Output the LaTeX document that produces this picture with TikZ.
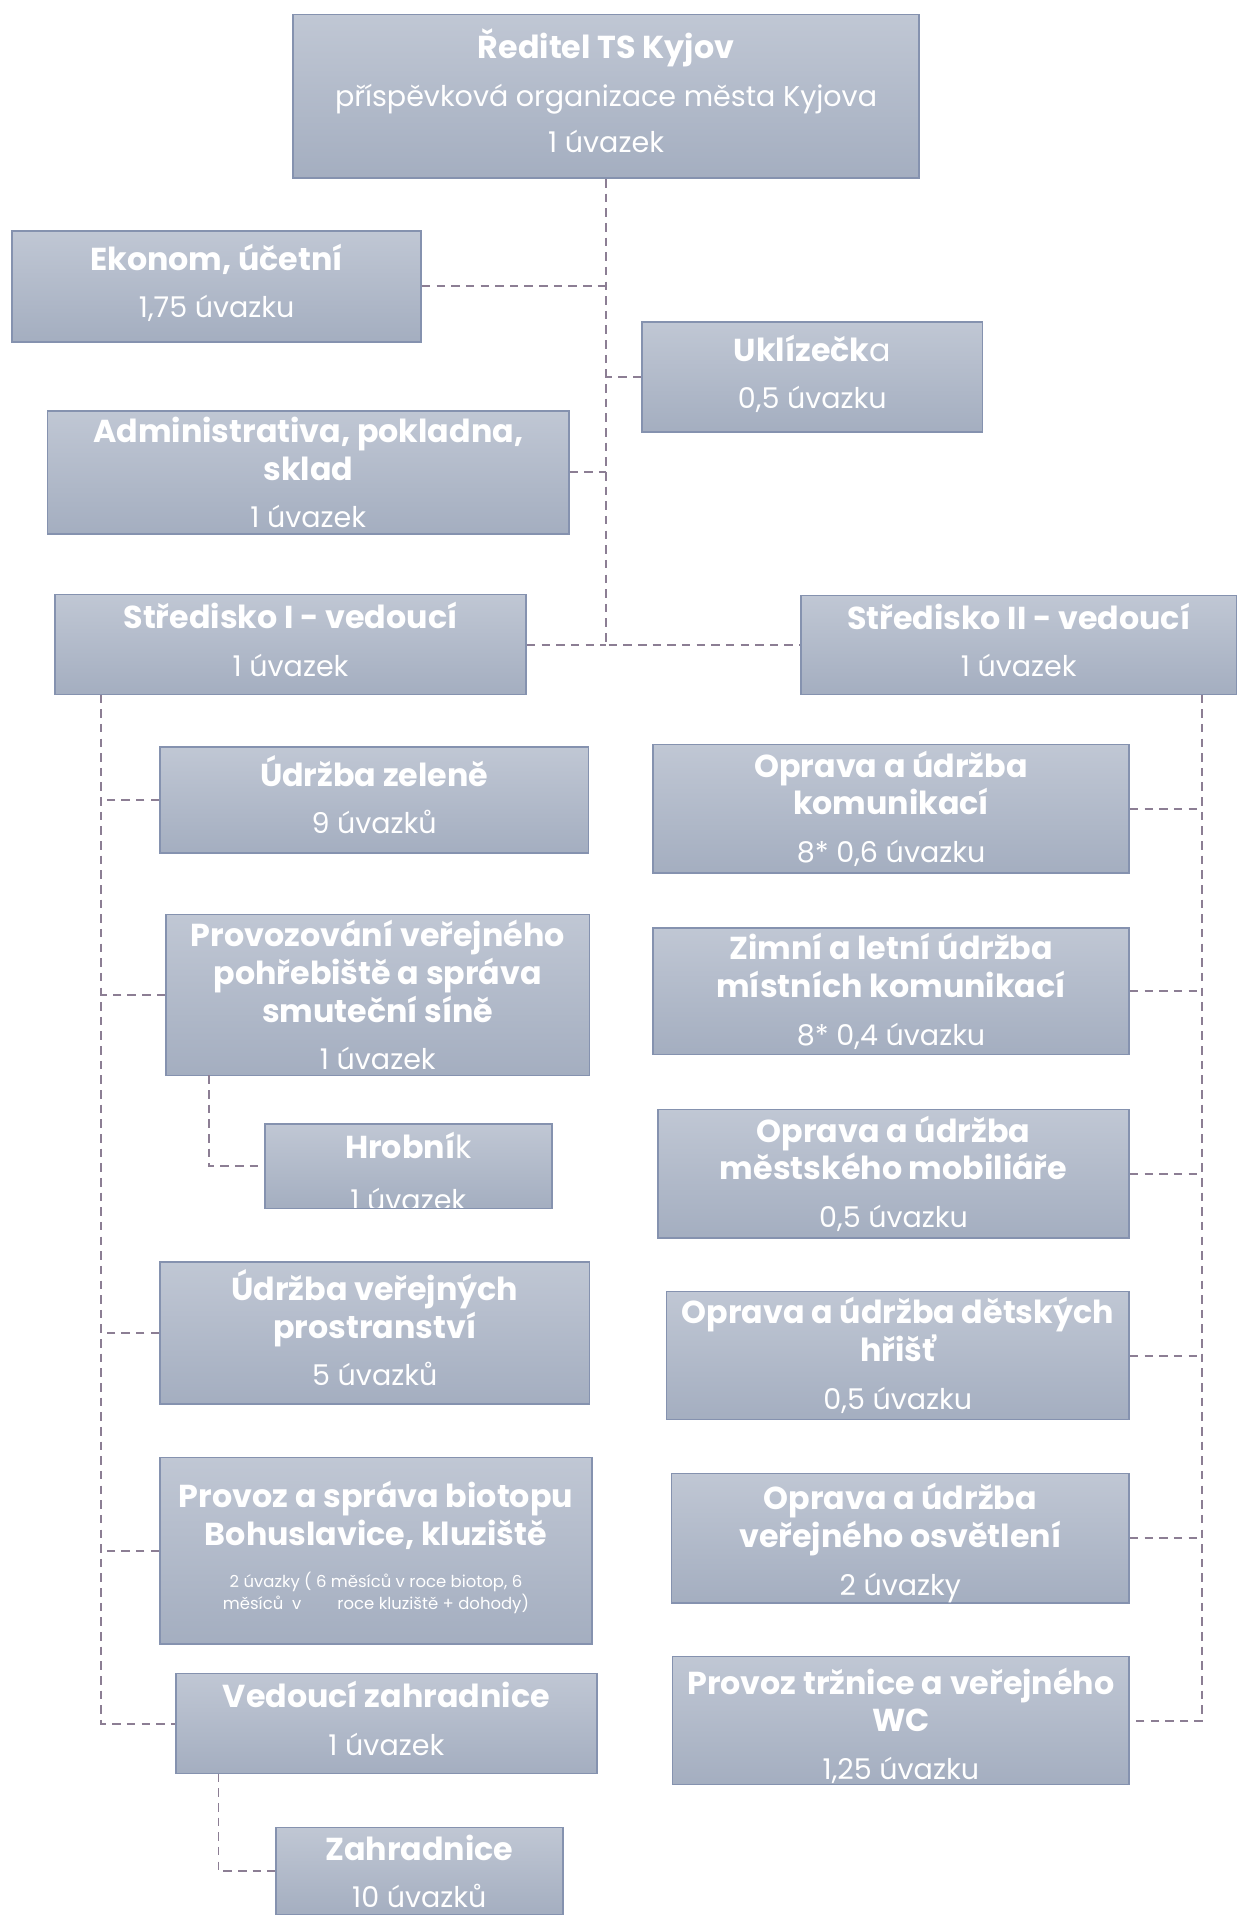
\documentclass[tikz,border=0pt]{standalone}
\usepackage{fontspec}
\setmainfont{Poppins}
\usetikzlibrary{positioning}
\definecolor{boxtop}{RGB}{192,199,212}
\definecolor{boxbot}{RGB}{164,174,192}
\definecolor{boxline}{RGB}{133,146,175}
\definecolor{linkcol}{RGB}{140,126,148}
\tikzstyle{block} = [rectangle, draw=boxline, line width=1.3pt, top color=boxtop, bottom color=boxbot, text=white, align=center, inner sep=0pt, font=\fontsize{26}{31}\selectfont\bfseries]
\tikzstyle{lift} = [execute at end node={\rule[-9pt]{0pt}{9pt}}]
\tikzstyle{link} = [draw=linkcol, line width=1.6pt, dash pattern=on 7pt off 5pt]
\newcommand{\sub}[1]{\\[8pt]{\mdseries\fontsize{23.4}{31}\selectfont #1}}
\newcommand{\note}[1]{{\mdseries\fontsize{13.5}{18}\selectfont #1}}

\begin{document}
\begin{tikzpicture}[x=1pt, y=-1pt]
        \useasboundingbox (0,0) rectangle (1015,1568.8);
        % blocks
        \node [block, lift, minimum width=513, minimum height=134] (dir) at (496.5,79) {Ředitel TS Kyjov\sub{příspěvková organizace města Kyjova}\\[7pt]{\mdseries\fontsize{23.4}{31}\selectfont 1 úvazek}};
        \node [block, lift, minimum width=335, minimum height=91] (eko) at (177.5,234.5) {Ekonom, účetní\sub{1,75 úvazku}};
        \node [block, lift, minimum width=279, minimum height=90] (ukl) at (665.5,309) {Uklízečk{\mdseries a}\sub{0,5 úvazku}};
        \node [block, minimum width=427, minimum height=101] (adm) at (252.5,387) {Administrativa, pokladna,\\sklad\sub{1 úvazek}};
        \node [block, lift, minimum width=386, minimum height=82] (s1) at (238,528) {Středisko I - vedoucí\sub{1 úvazek}};
        \node [block, lift, minimum width=357, minimum height=81] (s2) at (834.5,528.5) {Středisko II - vedoucí\sub{1 úvazek}};

        \node [block, lift, minimum width=351, minimum height=87] (zel) at (306.5,655.5) {Údržba zeleně\sub{9 úvazků}};
        \node [block, minimum width=347, minimum height=132] (pohr) at (309.5,815) {Provozování veřejného\\pohřebiště a správa\\smuteční síně\sub{1 úvazek}};
        \node [block, minimum width=235, minimum height=69, path picture={
            \node [text=white, align=center, font=\fontsize{26}{31}\selectfont\bfseries] at ([yshift=-4pt]path picture bounding box.center) {Hrobní{\mdseries k}\\[12pt]{\mdseries\fontsize{23.4}{31}\selectfont 1 úvazek}};
          }] (hrob) at (334.5,955.5) {};
        \node [block, lift, minimum width=352, minimum height=116] (prost) at (307,1092) {Údržba veřejných\\prostranství\sub{5 úvazků}};
        \node [block, lift, minimum width=354, minimum height=153] (bio) at (308,1270.5) {Provoz a správa biotopu\\Bohuslavice, kluziště\\[4pt]\note{2 úvazky ( 6 měsíců v roce biotop, 6}\\[-13pt]\note{měsíců~~v\hspace{26pt} roce kluziště + dohody)}};
        \node [block, lift, minimum width=345, minimum height=82] (vz) at (316.5,1412) {Vedoucí zahradnice\sub{1 úvazek}};
        \node [block, minimum width=235, minimum height=72] (zahr) at (343.5,1533) {Zahradnice\sub{10 úvazků}};

        \node [block, minimum width=390, minimum height=105] (kom) at (730,662.5) {Oprava a údržba\\komunikací\sub{8* 0,6 úvazku}};
        \node [block, minimum width=390, minimum height=104] (zim) at (730,812) {Zimní a letní údržba\\místních komunikací\sub{8* 0,4 úvazku}};
        \node [block, minimum width=386, minimum height=105] (mob) at (732,961.5) {Oprava a údržba\\městského mobiliáře\sub{0,5 úvazku}};
        \node [block, minimum width=379, minimum height=105] (hri) at (735.5,1110.5) {Oprava a údržba dětských\\hřišť\sub{0,5 úvazku}};
        \node [block, minimum width=375, minimum height=104] (osv) at (737.5,1260) {\rule{0pt}{30pt}Oprava a údržba\\veřejného osvětlení\sub{2 úvazky}};
        \node [block, minimum width=374, minimum height=105] (trz) at (738,1409.5) {\rule{0pt}{30pt}Provoz tržnice a veřejného\\WC\sub{1,25 úvazku}};

        % bus points
        \coordinate (lbus) at (83,569);
        \coordinate (rbus) at (985,569);
        \coordinate (pbus) at (171,881);
        \coordinate (zbus) at (179,1453);

        % lines
        \draw [link] (dir.south) |- (s2.west);
        \draw [link] (eko.east) -- (eko.east -| dir.south);
        \draw [link] (ukl.west) -- (ukl.west -| dir.south);
        \draw [link] (adm.east) -- (adm.east -| dir.south);
        \draw [link] (s1.east) -- (s1.east -| dir.south);
        \draw [link] (lbus) |- (vz.west);
        \draw [link] (zel.west) -- (zel.west -| lbus);
        \draw [link] (pohr.west) -- (pohr.west -| lbus);
        \draw [link] (prost.west) -- (prost.west -| lbus);
        \draw [link] (bio.west) -- (bio.west -| lbus);
        \draw [link] (pbus) |- (hrob.west);
        \draw [link] (zbus) |- (zahr.west);
        \draw [link] (rbus) |- (trz.east);
        \draw [link] (kom.east) -- (kom.east -| rbus);
        \draw [link] (zim.east) -- (zim.east -| rbus);
        \draw [link] (mob.east) -- (mob.east -| rbus);
        \draw [link] (hri.east) -- (hri.east -| rbus);
        \draw [link] (osv.east) -- (osv.east -| rbus);
\end{tikzpicture}
\end{document}
